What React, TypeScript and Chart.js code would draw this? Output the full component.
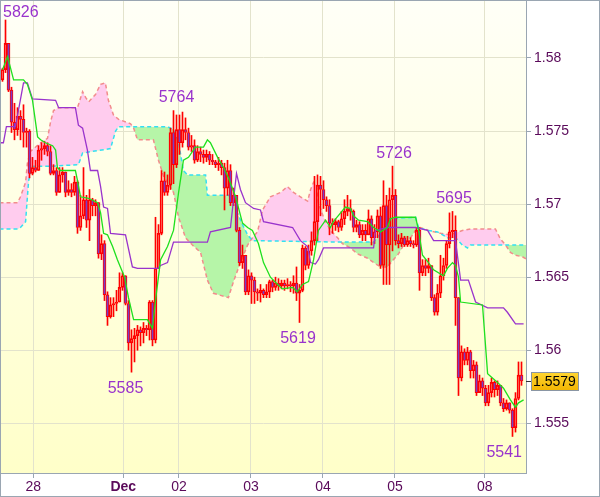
import React, { useEffect, useRef } from 'react';
import { Chart, registerables } from 'chart.js';
Chart.register(...registerables);

const FONT = 'Arial, "Liberation Sans", sans-serif';

const FIRST_OPEN = 1.5785;
const closes = [
  1.5792, 1.5810, 1.5778, 1.5756, 1.5751, 1.5760, 1.5758, 1.5749, 1.5750, 1.5721,
  1.5725, 1.5723, 1.5737, 1.5738, 1.5740, 1.5736, 1.5721, 1.5723, 1.5708, 1.5720,
  1.5722, 1.5708, 1.5710, 1.5708, 1.5715, 1.5684, 1.5692, 1.5703, 1.5689, 1.5703,
  1.5699, 1.5701, 1.5666, 1.5673, 1.5638, 1.5623, 1.5631, 1.5632, 1.5633, 1.5643,
  1.5651, 1.5632, 1.5605, 1.5608, 1.5610, 1.5614, 1.5612, 1.5615, 1.5614, 1.5633,
  1.5607, 1.5656, 1.5680, 1.5716, 1.5708, 1.5713, 1.5749, 1.5727, 1.5751, 1.5742,
  1.5751, 1.5749, 1.5739, 1.5740, 1.5730, 1.5736, 1.5734, 1.5732, 1.5734, 1.5730,
  1.5729, 1.5727, 1.5728, 1.5725, 1.5711, 1.5723, 1.5701, 1.5706, 1.5682, 1.5660,
  1.5665, 1.5640, 1.5651, 1.5648, 1.5640, 1.5639, 1.5641, 1.5638, 1.5640, 1.5647,
  1.5643, 1.5646, 1.5644, 1.5646, 1.5644, 1.5645, 1.5644, 1.5646, 1.5639, 1.5641,
  1.5670, 1.5658, 1.5668, 1.5675, 1.5688, 1.5713, 1.5710, 1.5703, 1.5699, 1.5687,
  1.5686, 1.5688, 1.5684, 1.5690, 1.5695, 1.5697, 1.5695, 1.5684, 1.5686, 1.5679,
  1.5682, 1.5679, 1.5690, 1.5677, 1.5681, 1.5692, 1.5658, 1.5699, 1.5672, 1.5703,
  1.5706, 1.5675, 1.5673, 1.5677, 1.5672, 1.5675, 1.5673, 1.5672, 1.5682, 1.5653,
  1.5658, 1.5656, 1.5658, 1.5636, 1.5626, 1.5639, 1.5651, 1.5658, 1.5673, 1.5681,
  1.5682, 1.5636, 1.5581, 1.5599, 1.5593, 1.5599, 1.5586, 1.5590, 1.5571, 1.5579,
  1.5574, 1.5564, 1.5571, 1.5578, 1.5573, 1.5576, 1.5564, 1.5560, 1.5564, 1.5559,
  1.5547, 1.5567, 1.5583, 1.5579,
];
const highs = [
  1.5793, 1.5826, 1.5810, 1.5780, 1.5769, 1.5766, 1.5764, 1.5768, 1.5752, 1.5751,
  1.5732, 1.5730, 1.5740, 1.5742, 1.5743, 1.5742, 1.5740, 1.5727, 1.5725, 1.5725,
  1.5725, 1.5722, 1.5716, 1.5714, 1.5719, 1.5716, 1.5706, 1.5725, 1.5706, 1.5710,
  1.5704, 1.5703, 1.5701, 1.5679, 1.5675, 1.5640, 1.5636, 1.5636, 1.5641, 1.5653,
  1.5653, 1.5651, 1.5634, 1.5614, 1.5615, 1.5617, 1.5616, 1.5619, 1.5617, 1.5634,
  1.5634, 1.5691, 1.5686, 1.5723, 1.5722, 1.5720, 1.5752, 1.5764, 1.5761, 1.5761,
  1.5763, 1.5759, 1.5752, 1.5747, 1.5744, 1.5740, 1.5739, 1.5737, 1.5737, 1.5736,
  1.5734, 1.5730, 1.5732, 1.5730, 1.5728, 1.5730, 1.5727, 1.5711, 1.5706, 1.5684,
  1.5672, 1.5665, 1.5655, 1.5653, 1.5650, 1.5642, 1.5645, 1.5642, 1.5645, 1.5648,
  1.5648, 1.5650, 1.5649, 1.5648, 1.5648, 1.5649, 1.5647, 1.5651, 1.5657, 1.5645,
  1.5672, 1.5671, 1.5672, 1.5681, 1.5719, 1.5720, 1.5719, 1.5716, 1.5705, 1.5703,
  1.5690, 1.5690, 1.5689, 1.5695, 1.5703, 1.5706, 1.5703, 1.5696, 1.5689, 1.5688,
  1.5686, 1.5686, 1.5696, 1.5692, 1.5686, 1.5696, 1.5698, 1.5716, 1.5706, 1.5711,
  1.5726, 1.5710, 1.5679, 1.5680, 1.5678, 1.5678, 1.5677, 1.5675, 1.5684, 1.5684,
  1.5662, 1.5662, 1.5663, 1.5658, 1.5638, 1.5645, 1.5665, 1.5663, 1.5675, 1.5694,
  1.5695, 1.5692, 1.5636, 1.5603, 1.5601, 1.5602, 1.5600, 1.5593, 1.5592, 1.5583,
  1.5581, 1.5576, 1.5576, 1.5581, 1.5579, 1.5579, 1.5576, 1.5567, 1.5566, 1.5564,
  1.5560, 1.5571, 1.5592, 1.5592,
];
const lows = [
  1.5784, 1.5790, 1.5777, 1.5749, 1.5744, 1.5747, 1.5744, 1.5739, 1.5739, 1.5718,
  1.5720, 1.5722, 1.5723, 1.5730, 1.5734, 1.5733, 1.5720, 1.5720, 1.5706, 1.5708,
  1.5715, 1.5705, 1.5706, 1.5705, 1.5706, 1.5680, 1.5682, 1.5690, 1.5684, 1.5675,
  1.5692, 1.5692, 1.5663, 1.5662, 1.5634, 1.5617, 1.5622, 1.5623, 1.5627, 1.5633,
  1.5641, 1.5631, 1.5600, 1.5585, 1.5592, 1.5600, 1.5603, 1.5605, 1.5610, 1.5607,
  1.5603, 1.5605, 1.5656, 1.5679, 1.5706, 1.5706, 1.5710, 1.5714, 1.5725, 1.5734,
  1.5739, 1.5744, 1.5737, 1.5736, 1.5728, 1.5729, 1.5729, 1.5728, 1.5729, 1.5727,
  1.5727, 1.5725, 1.5723, 1.5720, 1.5696, 1.5706, 1.5699, 1.5699, 1.5681, 1.5658,
  1.5656, 1.5638, 1.5638, 1.5632, 1.5632, 1.5634, 1.5633, 1.5636, 1.5636, 1.5636,
  1.5640, 1.5641, 1.5641, 1.5642, 1.5641, 1.5642, 1.5640, 1.5639, 1.5634, 1.5619,
  1.5640, 1.5655, 1.5656, 1.5665, 1.5672, 1.5675, 1.5692, 1.5697, 1.5695, 1.5679,
  1.5680, 1.5682, 1.5681, 1.5682, 1.5686, 1.5692, 1.5689, 1.5681, 1.5681, 1.5677,
  1.5675, 1.5675, 1.5679, 1.5672, 1.5673, 1.5677, 1.5656, 1.5645, 1.5645, 1.5645,
  1.5668, 1.5672, 1.5670, 1.5671, 1.5671, 1.5671, 1.5671, 1.5670, 1.5671, 1.5641,
  1.5651, 1.5651, 1.5653, 1.5634, 1.5624, 1.5624, 1.5636, 1.5648, 1.5656, 1.5670,
  1.5677, 1.5617, 1.5569, 1.5579, 1.5590, 1.5590, 1.5581, 1.5581, 1.5569, 1.5571,
  1.5569, 1.5562, 1.5562, 1.5568, 1.5568, 1.5569, 1.5562, 1.5558, 1.5559, 1.5557,
  1.5541, 1.5544, 1.5566, 1.5576,
];
const opens = closes.map((c, i) => (i === 0 ? FIRST_OPEN : closes[i - 1]));

// Tenkan-sen (green), Kijun-sen (purple), Senkou span A (cyan), Senkou span B (salmon)
const tenkan: [number, number][] = [
  [0, 1.5792], [1.7, 1.5801], [3.7, 1.5785], [7, 1.5785], [8.3, 1.5782], [10, 1.5771],
  [11.7, 1.5746], [12.7, 1.5744], [14.3, 1.5742], [16.7, 1.574], [17.7, 1.5737],
  [18.3, 1.5725], [19.3, 1.5723], [24.3, 1.5723], [25, 1.5716], [26, 1.5705],
  [28.7, 1.5704], [31.7, 1.5701], [32.7, 1.5694], [33.7, 1.568], [35, 1.5679],
  [36.7, 1.5671], [38.3, 1.5662], [40.7, 1.565], [42, 1.5636], [43.7, 1.5621],
  [48.3, 1.5621], [50, 1.5615], [51, 1.5634], [52.7, 1.5662], [55, 1.5671],
  [57, 1.5682], [58.7, 1.5708], [60.3, 1.573], [62, 1.5732], [64.3, 1.5739],
  [67, 1.5739], [68.3, 1.5744], [69.3, 1.5742], [71.7, 1.5732], [73.7, 1.5725],
  [75.3, 1.5718], [77.7, 1.5705], [80, 1.5687], [81.7, 1.5684], [83.3, 1.5682],
  [85.3, 1.5673], [87, 1.566], [89.3, 1.565], [91.7, 1.5645], [93.3, 1.5642],
  [96.7, 1.5643], [98.3, 1.564], [100, 1.5645], [102, 1.5647], [103.7, 1.5662],
  [105.3, 1.5682], [107.7, 1.5689], [109.3, 1.5684], [110.3, 1.5688], [112.7, 1.5694],
  [114.3, 1.5698], [116, 1.5697], [117, 1.5692], [118.7, 1.5689], [121.7, 1.5688],
  [123.7, 1.5684], [126, 1.5681], [128.3, 1.5684], [129.3, 1.569], [131, 1.5691],
  [137.7, 1.5691], [138.7, 1.5682], [140, 1.5665], [142, 1.566], [143.7, 1.5655],
  [147, 1.5651], [148.3, 1.5656], [150, 1.566], [151, 1.5658], [152, 1.565],
  [152.7, 1.5633], [160, 1.5631], [161.7, 1.5584], [165, 1.5578], [167, 1.5574],
  [169.3, 1.5566], [171, 1.5561], [172, 1.5564], [173.7, 1.5566],
];
const kijun: [number, number][] = [
  [-1, 1.5742], [0.3, 1.5742], [1.3, 1.5753], [4.3, 1.5753], [5.3, 1.5764], [7, 1.5783],
  [8.3, 1.5783], [10, 1.5772], [17.7, 1.5771], [18.7, 1.5766], [24.3, 1.5766],
  [25.3, 1.5754], [26.7, 1.5752], [28.3, 1.5737], [29.3, 1.5723], [31.7, 1.5723],
  [32.7, 1.5712], [33.7, 1.5698], [35, 1.5697], [36, 1.568], [41, 1.5679],
  [43.3, 1.5657], [45, 1.5656], [51.7, 1.5656], [52.7, 1.5658], [55, 1.566],
  [57, 1.5674], [68.3, 1.5674], [69.3, 1.5681], [76, 1.5684], [77, 1.5703],
  [78, 1.5721], [79.3, 1.571], [81, 1.5701], [83.7, 1.5697], [86, 1.5696],
  [87, 1.5688], [96.7, 1.5684], [99.3, 1.5675], [101.7, 1.5671], [102.7, 1.566],
  [104.3, 1.5659], [105.3, 1.5662], [107, 1.567], [123.7, 1.567], [124.3, 1.5682],
  [128.3, 1.5684], [137.7, 1.5684], [141.7, 1.5682], [143.7, 1.5675], [151, 1.5675],
  [152.7, 1.5648], [155.3, 1.5648], [157.7, 1.5633], [161.7, 1.5629], [167, 1.5629],
  [168.3, 1.5626], [171, 1.5618], [173.7, 1.5618],
];
const spanA: [number, number][] = [
  [-1, 1.5683], [5, 1.5683], [6, 1.5684], [7.7, 1.5688], [8.7, 1.5716], [10, 1.5726],
  [16.7, 1.5726], [25.3, 1.5727], [26.7, 1.5735], [36, 1.5738], [37.7, 1.575],
  [38.7, 1.5753], [55, 1.5753], [57, 1.5751], [58.7, 1.5742], [60.3, 1.5723],
  [61.7, 1.572], [67.7, 1.572], [68.3, 1.5706], [75.3, 1.5706], [77, 1.5704],
  [78.3, 1.5694], [80, 1.5686], [81.7, 1.5679], [83.3, 1.5675], [112.7, 1.5674],
  [123.7, 1.5674], [126, 1.568], [128.3, 1.569], [137.7, 1.5691], [138.7, 1.5684],
  [141.7, 1.5682], [145, 1.5681], [148.3, 1.5677], [151, 1.5677], [153.3, 1.5672],
  [155, 1.567], [156, 1.5672], [175, 1.5672],
];
const spanB: [number, number][] = [
  [-1, 1.5701], [5, 1.5701], [6, 1.5705], [7.7, 1.5715], [8.3, 1.5728], [9.3, 1.5736],
  [12.7, 1.5742], [15, 1.5745], [16, 1.5756], [17, 1.5764], [18.7, 1.5766], [25, 1.5766],
  [26.7, 1.5777], [27.7, 1.5773], [28.7, 1.577], [31, 1.5775], [32.7, 1.5782],
  [34.3, 1.5783], [35.3, 1.5771], [37, 1.5761], [38.7, 1.5758], [42.7, 1.5755],
  [43.7, 1.5752], [45, 1.5744], [50.3, 1.5744], [52, 1.573], [53.7, 1.5719],
  [57, 1.5708], [58.7, 1.5691], [61, 1.5677], [63.3, 1.5672], [66, 1.5667],
  [68.3, 1.5648], [70.3, 1.5639], [75.3, 1.5636], [77, 1.5647], [79.3, 1.566],
  [81.7, 1.5672], [83.3, 1.5677], [85, 1.5681], [86.7, 1.5696], [89.3, 1.5705],
  [92.7, 1.5708], [95, 1.5712], [97, 1.5708], [99.3, 1.5705], [101.7, 1.5702],
  [102.7, 1.571], [103.7, 1.5715], [104.7, 1.5713], [105.3, 1.5701], [107, 1.5691],
  [109.3, 1.5682], [111.7, 1.5677], [113.3, 1.5673], [116, 1.567], [118.3, 1.5666],
  [121.7, 1.5663], [123.7, 1.566], [126, 1.5657], [128.3, 1.5657], [130.3, 1.5662],
  [132, 1.5666], [133.7, 1.5672], [136, 1.5677], [137.7, 1.5682], [139.3, 1.5684],
  [142, 1.5682], [146, 1.568], [149.3, 1.5679], [152, 1.5681], [153.3, 1.5682],
  [156, 1.5683], [164.3, 1.5683], [166, 1.5676], [167.7, 1.5672], [169.3, 1.5667],
  [171, 1.5665], [173.3, 1.5664], [175, 1.5662],
];

const dayTickIdx = [10.25, 40.25, 58.83, 82.83, 106.83, 130.83, 160.75];
const dayTickLabels = ['28', 'Dec', '02', '03', '04', '05', '08'];
const priceTicks = [1.555, 1.56, 1.565, 1.57, 1.575, 1.58];
const priceTickLabels = ['1.555', '1.56', '1.565', '1.57', '1.575', '1.58'];

const annTexts = ['5826', '5764', '5726', '5695', '5619', '5585', '5541'];
const annIdx = [1, 58, 130.5, 150.5, 98.5, 41, 170];
const annPrice = [1.5826, 1.5764, 1.5726, 1.5695, 1.5619, 1.5585, 1.5541];
const annAbove = [true, true, true, true, false, false, false];

const Y_MIN = 1.5516;
const Y_MAX = 1.5839;
const X_MIN = -0.5;
const X_MAX = 174.5;

const BORDER = '#9aa6b2';
const GRID = '#e3e3cc';
const AXIS_TEXT = '#5a0a5a';

const bgPlugin = {
  id: 'bgPlugin',
  beforeDraw(chart: any) {
    const { ctx, chartArea: a, width, height } = chart;
    ctx.save();
    ctx.fillStyle = '#ffffff';
    ctx.fillRect(0, 0, width, height);
    const g = ctx.createLinearGradient(0, a.top, 0, a.bottom);
    g.addColorStop(0, '#fffff7');
    g.addColorStop(1, '#ffffc9');
    ctx.fillStyle = g;
    ctx.fillRect(a.left, a.top, a.right - a.left, a.bottom - a.top);
    ctx.restore();
  },
};

const overlayPlugin = {
  id: 'overlayPlugin',
  afterDraw(chart: any) {
    const { ctx, chartArea: a, width, height } = chart;
    const xs = chart.scales.x;
    const ys = chart.scales.y;
    ctx.save();
    ctx.strokeStyle = BORDER;
    ctx.lineWidth = 1;
    ctx.strokeRect(a.left - 0.5, a.top - 0.5, a.right - a.left + 1, a.bottom - a.top + 1);
    ctx.strokeRect(0.5, 0.5, width - 1, height - 1);

    ctx.font = '16px ' + FONT;
    ctx.fillStyle = '#9933cc';
    ctx.textAlign = 'center';
    ctx.textBaseline = 'middle';
    annTexts.forEach((t, k) => {
      const w = ctx.measureText(t).width;
      let x = xs.getPixelForValue(annIdx[k]);
      x = Math.max(a.left + 2 + w / 2, Math.min(a.right - 4 - w / 2, x));
      const py = ys.getPixelForValue(annPrice[k]);
      let y = annAbove[k] ? py - 13 : py + 16;
      y = Math.max(a.top + 11.5, Math.min(a.bottom - 10, y));
      ctx.fillText(t, x, y);
    });

    const last = closes[closes.length - 1];
    const ly = Math.round(ys.getPixelForValue(last));
    ctx.strokeStyle = '#333333';
    ctx.beginPath();
    ctx.moveTo(a.right, ly + 0.5);
    ctx.lineTo(a.right + 5, ly + 0.5);
    ctx.stroke();
    const bx = a.right + 5;
    const bw = 48;
    const bh = 19;
    const by = ly - 9;
    const g = ctx.createLinearGradient(0, by, 0, by + bh);
    g.addColorStop(0, '#ffd633');
    g.addColorStop(1, '#f2b400');
    ctx.fillStyle = g;
    ctx.fillRect(bx, by, bw, bh);
    ctx.strokeStyle = '#8a96a4';
    ctx.strokeRect(bx + 0.5, by + 0.5, bw - 1, bh - 1);
    ctx.fillStyle = '#000000';
    ctx.font = '14px ' + FONT;
    ctx.textAlign = 'left';
    ctx.textBaseline = 'middle';
    ctx.fillText(last.toFixed(4), bx + 2, ly + 1);
    ctx.restore();
  },
};

export default function App() {
  const ref = useRef<HTMLCanvasElement | null>(null);

  useEffect(() => {
    document.body.style.margin = '0';
    const canvas = ref.current;
    if (!canvas) return;
    const idx = closes.map((_, i) => i);
    const toPts = (arr: [number, number][]) => arr.map(([x, y]) => ({ x, y }));

    const chart = new Chart(canvas, {
      type: 'bar',
      data: {
        datasets: [
          {
            type: 'line',
            label: 'Senkou B',
            data: toPts(spanB),
            borderColor: '#f28c8c',
            borderDash: [4, 3],
            borderWidth: 1.5,
            pointRadius: 0,
            tension: 0,
            fill: { target: 1, above: '#ffccee', below: '#b6f5a8' },
            order: 10,
          } as any,
          {
            type: 'line',
            label: 'Senkou A',
            data: toPts(spanA),
            borderColor: '#33e0f2',
            borderDash: [4, 3],
            borderWidth: 1.5,
            pointRadius: 0,
            tension: 0,
            fill: false,
            order: 9,
          } as any,
          {
            type: 'bar',
            label: 'upper wick',
            data: idx.map((i) => ({ x: i, y: [Math.max(opens[i], closes[i]), highs[i]] })),
            backgroundColor: '#ff0000',
            borderWidth: 0,
            barThickness: 1,
            grouped: false,
            order: 5,
          } as any,
          {
            type: 'bar',
            label: 'lower wick',
            data: idx.map((i) => ({ x: i, y: [lows[i], Math.min(opens[i], closes[i])] })),
            backgroundColor: '#ff0000',
            borderWidth: 0,
            barThickness: 1,
            grouped: false,
            order: 5,
          } as any,
          {
            type: 'bar',
            label: 'body',
            data: idx.map((i) => ({ x: i, y: [opens[i], closes[i]] })),
            backgroundColor: idx.map((i) => (closes[i] < opens[i] ? '#7c3cc4' : 'rgba(0,0,0,0)')),
            borderColor: '#ff0000',
            borderWidth: 1,
            borderSkipped: false,
            barThickness: 3,
            minBarLength: 1,
            grouped: false,
            order: 4,
          } as any,
          {
            type: 'line',
            label: 'Kijun',
            data: toPts(kijun),
            borderColor: '#9933cc',
            borderWidth: 1.3,
            pointRadius: 0,
            tension: 0,
            fill: false,
            order: 2,
          } as any,
          {
            type: 'line',
            label: 'Tenkan',
            data: toPts(tenkan),
            borderColor: '#1ee01e',
            borderWidth: 1.3,
            pointRadius: 0,
            tension: 0,
            fill: false,
            order: 1,
          } as any,
        ],
      },
      options: {
        animation: false,
        responsive: false,
        maintainAspectRatio: false,
        devicePixelRatio: 1,
        events: [],
        layout: { padding: { left: 1, top: 1, right: 0, bottom: 0 } },
        plugins: {
          legend: { display: false },
          tooltip: { enabled: false },
          title: { display: false },
        },
        scales: {
          x: {
            type: 'linear',
            min: X_MIN,
            max: X_MAX,
            bounds: 'data',
            offset: false,
            grid: {
              color: GRID,
              tickColor: BORDER,
              tickLength: 5,
              offset: false,
            },
            border: { display: false },
            afterBuildTicks: (scale: any) => {
              scale.ticks = dayTickIdx.map((v) => ({ value: v }));
            },
            afterFit: (scale: any) => {
              scale.height = 24;
              scale.paddingLeft = 0;
              scale.paddingRight = 0;
              scale.paddingTop = 0;
              scale.paddingBottom = 0;
            },
            ticks: {
              autoSkip: false,
              maxRotation: 0,
              padding: 1,
              color: AXIS_TEXT,
              font: (ctx: any) => ({
                family: FONT,
                size: 14,
                weight: ctx.index === 1 ? 'bold' : 'normal',
              }),
              callback: (_v: any, i: number) => dayTickLabels[i],
            },
          } as any,
          y: {
            type: 'linear',
            position: 'right',
            min: Y_MIN,
            max: Y_MAX,
            bounds: 'data',
            beginAtZero: false,
            grid: {
              color: GRID,
              tickColor: BORDER,
              tickLength: 5,
            },
            border: { display: false },
            afterBuildTicks: (scale: any) => {
              scale.ticks = priceTicks.map((v) => ({ value: v }));
            },
            afterFit: (scale: any) => {
              scale.width = 74;
              scale.paddingLeft = 0;
              scale.paddingRight = 0;
              scale.paddingTop = 0;
              scale.paddingBottom = 0;
            },
            ticks: {
              autoSkip: false,
              padding: 3,
              color: AXIS_TEXT,
              font: { family: FONT, size: 14 },
              callback: (_v: any, i: number) => priceTickLabels[i],
            },
          } as any,
        },
      } as any,
      plugins: [bgPlugin, overlayPlugin],
    });
    return () => chart.destroy();
  }, []);

  return (
    <div style={{ width: 600, height: 497 }}>
      <canvas ref={ref} width={600} height={497} style={{ display: 'block' }} />
    </div>
  );
}
